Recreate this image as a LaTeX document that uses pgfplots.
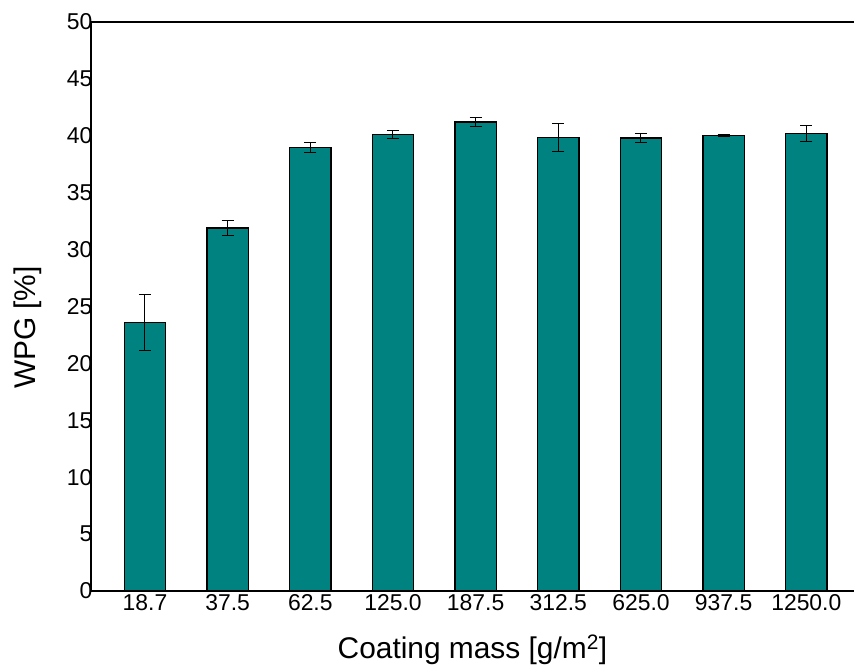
\documentclass[border=0pt]{standalone}
\usepackage{fontspec}
\setmainfont{Liberation Sans}
\usepackage{pgfplots}
\pgfplotsset{compat=1.18}
\definecolor{tealbar}{RGB}{0,130,128}
\begin{document}
\begin{tikzpicture}
\begin{axis}[
  at={(0,0)}, anchor=south west,
  scale only axis, width=763bp, height=569bp,
  xmin=-0.653, xmax=8.577, ymin=0, ymax=50,
  axis lines=left, axis line style={-, line width=1.8bp},
  xtick=data,
  xticklabels={18.7,37.5,62.5,125.0,187.5,312.5,625.0,937.5,1250.0},
  ytick={0,5,...,50},
  major tick length=0pt,
  tick label style={font=\fontsize{23}{27}\selectfont},
  yticklabel style={xshift=5bp},
  /pgf/number format/assume math mode=true,
  xlabel={Coating mass [g/m\textsuperscript{2}]},
  ylabel={WPG [\%]},
  label style={font=\fontsize{30}{36}\selectfont, inner sep=0pt},
  xlabel style={at={(axis description cs:0.5,-0.1178)}, anchor=base},
  ylabel style={at={(axis description cs:-0.0721,0.463)}, anchor=base, rotate=0},
  clip=false,
]
\addplot[ybar, bar width=0.5, fill=tealbar, draw=black, line width=1.4bp,
  error bars/.cd, y dir=both, y explicit,
  error bar style={black, line width=1bp},
  error mark options={rotate=90, mark size=6bp, black, line width=1bp}]
  table[x=x, y=y, y error=e] {
x y e
0 23.6 2.43
1 31.9 0.70
2 38.95 0.45
3 40.1 0.38
4 41.2 0.38
5 39.85 1.2
6 39.8 0.40
7 40.05 0.10
8 40.2 0.72
};
\draw[line width=1.8bp] (rel axis cs:0,1) -- (rel axis cs:1,1);
\end{axis}
\pgfresetboundingbox
\path[use as bounding box] (-91bp,-76bp) rectangle (763bp,591bp);
\end{tikzpicture}
\end{document}
